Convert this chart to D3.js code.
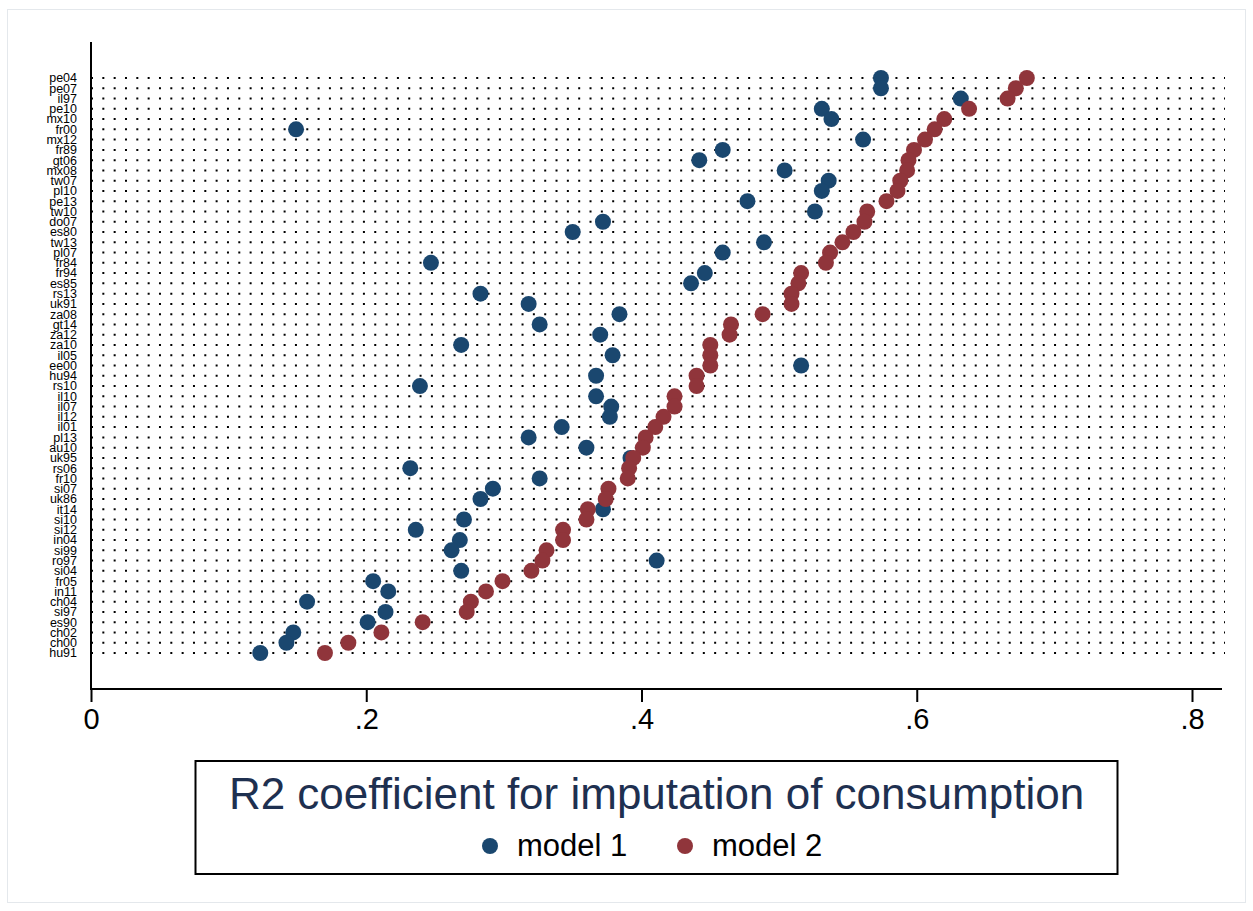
<!DOCTYPE html>
<html lang="en">
<head>
<meta charset="utf-8">
<title>R2 coefficient dot chart</title>
<script src="https://d3js.org/d3.v7.min.js"></script>
<style>
  body { margin: 0; background: #fff; }
  svg text { font-family: Arial, "Liberation Sans", sans-serif; }
</style>
</head>
<body>
<svg id="chart"></svg>
<script>
// surveys, top to bottom
var surveys = ["pe04","pe07","il97","pe10","mx10","fr00","mx12","fr89","gt06","mx08",
  "tw07","pl10","pe13","tw10","do07","es80","tw13","pl07","fr84","fr94",
  "es85","rs13","uk91","za08","gt14","za12","za10","il05","ee00","hu94",
  "rs10","il10","il07","il12","il01","pl13","au10","uk95","rs06","fr10",
  "si07","uk86","it14","si10","si12","in04","si99","ro97","si04","fr05",
  "in11","ch04","si97","es90","ch02","ch00","hu91"];

var model1 = [0.574,0.574,0.632,0.531,0.538,0.149,0.561,0.459,0.442,0.504,
  0.536,0.531,0.477,0.526,0.372,0.350,0.489,0.459,0.247,0.446,
  0.436,0.283,0.318,0.384,0.326,0.370,0.269,0.379,0.516,0.367,
  0.239,0.367,0.378,0.377,0.342,0.318,0.360,0.392,0.232,0.326,
  0.292,0.283,0.372,0.271,0.236,0.268,0.262,0.411,0.269,0.205,
  0.216,0.157,0.214,0.201,0.147,0.142,0.123];

var model2 = [0.680,0.672,0.666,0.638,0.620,0.613,0.606,0.598,0.594,0.593,
  0.588,0.586,0.578,0.564,0.562,0.554,0.546,0.537,0.534,0.516,
  0.514,0.509,0.509,0.488,0.465,0.464,0.450,0.450,0.450,0.440,
  0.440,0.424,0.424,0.416,0.410,0.403,0.401,0.394,0.391,0.390,
  0.376,0.374,0.361,0.360,0.343,0.343,0.331,0.328,0.320,0.299,
  0.287,0.276,0.273,0.241,0.211,0.187,0.170];

var xTicks = [0, 0.2, 0.4, 0.6, 0.8];
var legendTitle = "R2 coefficient for imputation of consumption";
var seriesNames = ["model 1", "model 2"];
var colors = ["#1a476f", "#90353b"];

var W = 1253, H = 911;
var svg = d3.select("#chart").attr("width", W).attr("height", H);

// faint outer frame
svg.append("rect").attr("x", 7.5).attr("y", 9.5).attr("width", 1238).attr("height", 893)
  .attr("fill", "none").attr("stroke", "#e4e8ec").attr("stroke-width", 1);

var x = d3.scaleLinear().domain([0, 0.8]).range([91, 1192]);
var y = d3.scalePoint().domain(surveys).range([78, 653]);
var plotRight = 1222, axisY = 689, axisTop = 42;

// dotted grid rows
svg.append("g").selectAll("line")
  .data(surveys)
  .enter()
  .append("line")
  .attr("x1", x(0))
  .attr("x2", plotRight + 3)
  .attr("y1", d => y(d))
  .attr("y2", d => y(d))
  .attr("stroke", "#000")
  .attr("stroke-width", 2)
  .attr("stroke-dasharray", "2 9.33");

// y labels
svg.append("g").selectAll("text")
  .data(surveys)
  .enter()
  .append("text")
  .attr("x", 77)
  .attr("y", d => y(d))
  .attr("dy", "0.35em")
  .attr("text-anchor", "end")
  .attr("font-size", "12.5px")
  .attr("fill", "#000")
  .text(d => d);

// y axis line
svg.append("line").attr("x1", x(0)).attr("x2", x(0)).attr("y1", axisTop).attr("y2", axisY)
  .attr("stroke", "#000").attr("stroke-width", 2);

// x axis
var xAxis = d3.axisBottom(x)
  .tickValues(xTicks)
  .tickSize(13)
  .tickPadding(6)
  .tickFormat(d => d === 0 ? "0" : d3.format(".1f")(d).replace(/^0/, ""));

var gx = svg.append("g").attr("transform", "translate(0," + axisY + ")").call(xAxis);
gx.select(".domain").remove();
gx.selectAll(".tick line").attr("stroke", "#000").attr("stroke-width", 2);
gx.selectAll(".tick text").attr("font-size", "29px").attr("fill", "#000")
  .attr("font-family", "Arial, 'Liberation Sans', sans-serif");
svg.append("line").attr("x1", x(0) - 1).attr("x2", plotRight).attr("y1", axisY).attr("y2", axisY)
  .attr("stroke", "#000").attr("stroke-width", 2);

// markers: model 1 first, then model 2 on top
var r = 8;
svg.append("g").selectAll("circle")
  .data(surveys)
  .enter()
  .append("circle")
  .attr("cx", (d, i) => x(model1[i]))
  .attr("cy", d => y(d))
  .attr("r", r)
  .attr("fill", colors[0]);

svg.append("g").selectAll("circle")
  .data(surveys)
  .enter()
  .append("circle")
  .attr("cx", (d, i) => x(model2[i]))
  .attr("cy", d => y(d))
  .attr("r", r)
  .attr("fill", colors[1]);

// legend
var lg = svg.append("g");
lg.append("rect").attr("x", 195.5).attr("y", 761).attr("width", 922).attr("height", 113)
  .attr("fill", "#fff").attr("stroke", "#000").attr("stroke-width", 2);
lg.append("text").attr("x", 656.5).attr("y", 809).attr("text-anchor", "middle")
  .attr("font-size", "44px").attr("fill", "#1e3050").text(legendTitle);

var itemX = [490, 685];
seriesNames.forEach(function(name, i) {
  lg.append("circle").attr("cx", itemX[i]).attr("cy", 846).attr("r", r).attr("fill", colors[i]);
  lg.append("text").attr("x", itemX[i] + 27).attr("y", 856).attr("font-size", "31px")
    .attr("fill", "#000").text(name);
});
</script>
</body>
</html>
